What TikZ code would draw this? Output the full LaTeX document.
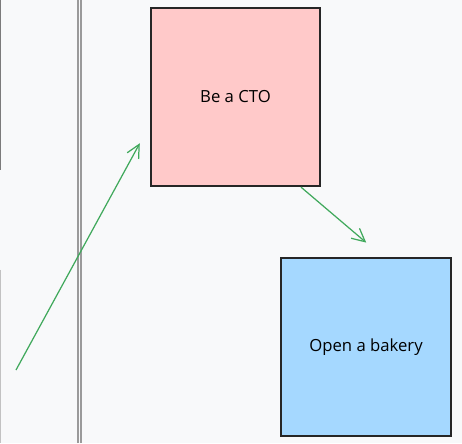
\documentclass[tikz,border=0pt]{standalone}
\usepackage{fontspec}
\setmainfont{Open Sans}
\usepackage{tikz}
\usetikzlibrary{arrows.meta}

\definecolor{paper}{HTML}{F8F9FA}
\definecolor{ctopink}{HTML}{FFC9C9}
\definecolor{bakeryblue}{HTML}{A5D8FF}
\definecolor{arrowgreen}{HTML}{40A95C}
\definecolor{rulegray}{HTML}{9A9A9A}

\begin{document}
\begin{tikzpicture}[>={Straight Barb[length=2.6mm, width=2.6mm]}, line width=0.7pt,
    card/.style={draw=black!85, line width=1.3pt, minimum width=3.38cm,
                 minimum height=3.56cm, font=\fontsize{9.5}{11}\selectfont},
    link/.style={->, arrowgreen}]
  % page background
  \fill[paper] (0,0) rectangle (9.24,8.86);
  \useasboundingbox (0,0) rectangle (9.24,8.86);

  % rules on the left
  \draw[rulegray!80!black] (0.01,8.86) -- (0.01,5.46);
  \draw[rulegray!60] (0.01,3.46) -- (0.01,0);
  \draw[rulegray, line width=0.6pt] (1.56,0) -- (1.56,8.86);
  \draw[rulegray, line width=0.6pt] (1.62,0) -- (1.62,8.86);

  % the two goals
  \node[card, fill=ctopink] (cto) at (4.71,6.92) {Be a CTO};
  \node[card, fill=bakeryblue, minimum width=3.40cm] (bakery) at (7.32,1.92) {Open a bakery};

  % loose start of the first arrow
  \coordinate (start) at (0.32,1.46);

  % start -> CTO
  \draw[link, shorten >=0.42cm] (start) -- (cto.198);

  % CTO -> bakery
  \draw[link, shorten >=0.44cm] (cto.-54) -- ([xshift=0.34cm]bakery.north);
\end{tikzpicture}
\end{document}
